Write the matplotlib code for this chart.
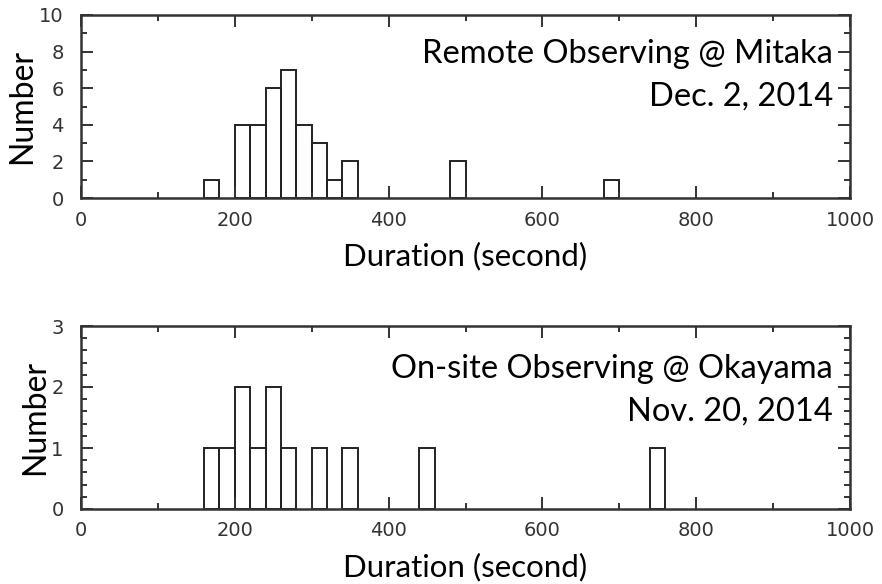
import numpy as np
import matplotlib
matplotlib.use("Agg")
import matplotlib.pyplot as plt
from matplotlib.ticker import MultipleLocator

# histogram bins are 20 s wide; only occupied bins listed (bin start, count)
BIN_WIDTH = 20

mitaka_bins = [160, 200, 220, 240, 260, 280, 300, 320, 340, 480, 680]
mitaka_counts = [1, 4, 4, 6, 7, 4, 3, 1, 2, 2, 1]

okayama_bins = [160, 180, 200, 220, 240, 260, 300, 340, 440, 740]
okayama_counts = [1, 1, 2, 1, 2, 1, 1, 1, 1, 1]

panels = [
    (mitaka_bins, mitaka_counts, 10, 2, 1,
     "Remote Observing @ Mitaka", "Dec. 2, 2014", (0.738, 0.503)),
    (okayama_bins, okayama_counts, 3, 1, 0.2,
     "On-site Observing @ Okayama", "Nov. 20, 2014", (0.716, 0.481)),
]

LABEL_FONT = "Lato"
TICK_FONT = "DejaVu Sans"
INK = "#222222"

fig = plt.figure(figsize=(8.82, 5.84), dpi=100)
W, H = 882, 584
boxes = [(81, 15, 850, 198), (81, 326, 850, 509)]

for (bins, counts, ymax, ymaj, ymin, line1, line2, ys), (x0, y0, x1, y1) in zip(panels, boxes):
    ax = fig.add_axes([x0 / W, 1 - y1 / H, (x1 - x0) / W, (y1 - y0) / H])
    ax.bar(bins, counts, width=BIN_WIDTH, align="edge", fill=False,
           edgecolor=INK, linewidth=1.4)
    ax.set_xlim(0, 1000)
    ax.set_ylim(0, ymax)
    ax.xaxis.set_major_locator(MultipleLocator(200))
    ax.xaxis.set_minor_locator(MultipleLocator(100))
    ax.yaxis.set_major_locator(MultipleLocator(ymaj))
    ax.yaxis.set_minor_locator(MultipleLocator(ymin))
    ax.tick_params(which="both", direction="in", top=True, right=True,
                   color="#333333", width=1.4)
    ax.tick_params(which="major", length=8.5, labelsize=14,
                   labelcolor="#333333")
    ax.tick_params(axis="x", which="major", pad=9)
    ax.tick_params(axis="y", which="major", pad=12.5)
    ax.tick_params(which="minor", length=4.5)
    for lab in ax.get_xticklabels() + ax.get_yticklabels():
        lab.set_family(TICK_FONT)
    for sp in ax.spines.values():
        sp.set_linewidth(1.8)
        sp.set_color("#333333")
    ax.set_xlabel("Duration (second)", family=LABEL_FONT, fontsize=22.5, labelpad=9)
    ax.set_ylabel("Number", family=LABEL_FONT, fontsize=23, labelpad=1)
    ax.text(0.978, ys[0], line1, transform=ax.transAxes, ha="right", va="baseline",
            family=LABEL_FONT, fontsize=23.5)
    ax.text(0.978, ys[1], line2, transform=ax.transAxes, ha="right", va="baseline",
            family=LABEL_FONT, fontsize=23.5)

fig.savefig("out.png", dpi=100, facecolor="white")
